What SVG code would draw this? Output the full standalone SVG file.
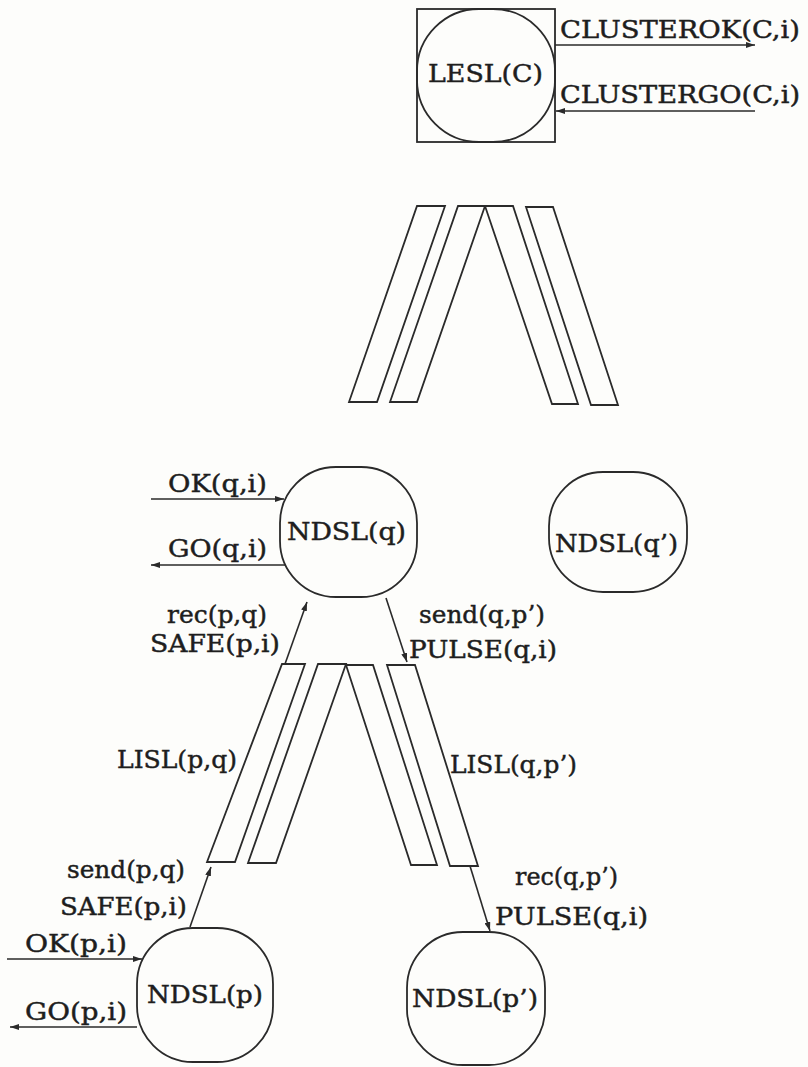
<svg xmlns="http://www.w3.org/2000/svg" width="808" height="1067" viewBox="0 0 808 1067">
<style>
.bg{fill:#fdfdfb}
.node{fill:none;stroke:#2a2a2a;stroke-width:1.8}
.ch{fill:none;stroke:#2a2a2a;stroke-width:1.8;stroke-linejoin:miter}
.conn{fill:none;stroke:#2a2a2a;stroke-width:1.6}
text{font-family:"DejaVu Serif","Liberation Serif",serif;font-size:24px;fill:#1e1e1e;stroke:#1e1e1e;stroke-width:0.45}
</style>
<defs>
<marker id="ah" markerWidth="9" markerHeight="6" refX="9" refY="3" orient="auto" markerUnits="userSpaceOnUse">
<path d="M0,0 L9,3 L0,6 z" fill="#2a2a2a"/>
</marker>
</defs>
<rect class="bg" x="0" y="0" width="808" height="1067"/>

<g id="LESL">
<rect class="node" x="417" y="9" width="138" height="133"/>
<rect class="node" x="417" y="9" width="138" height="133" rx="62" ry="62"/>
<text x="428" y="82" textLength="115" lengthAdjust="spacingAndGlyphs">LESL(C)</text>
</g>

<g id="channels-top">
<polygon class="ch" points="417,206 445,206 377,402 349,402"/>
<polygon class="ch" points="458,206 485,206 417,402 390,402"/>
<polygon class="ch" points="485,206 513,206 578,404 552,404"/>
<polygon class="ch" points="526,207 553,207 618,405 591,405"/>
</g>

<g id="NDSLq">
<rect class="node" x="280" y="467" width="137" height="130" rx="56" ry="56"/>
<text x="287" y="540" textLength="119" lengthAdjust="spacingAndGlyphs">NDSL(q)</text>
</g>

<g id="NDSLq2">
<rect class="node" x="549" y="472" width="138" height="120" rx="54" ry="54"/>
<text x="555" y="552" textLength="123" lengthAdjust="spacingAndGlyphs">NDSL(q’)</text>
</g>

<g id="channels-bottom">
<polygon class="ch" points="282,664 305,664 235,862 207,862"/>
<polygon class="ch" points="318,664 346,664 276,863 248,863"/>
<polygon class="ch" points="346,665 373,665 437,865 411,865"/>
<polygon class="ch" points="387,665 415,665 478,866 450,866"/>
</g>

<g id="NDSLp">
<rect class="node" x="137" y="928" width="136" height="134" rx="56" ry="56"/>
<text x="147" y="1003" textLength="116" lengthAdjust="spacingAndGlyphs">NDSL(p)</text>
</g>

<g id="NDSLp2">
<rect class="node" x="407" y="932" width="138" height="133" rx="56" ry="56"/>
<text x="412" y="1007" textLength="126" lengthAdjust="spacingAndGlyphs">NDSL(p’)</text>
</g>

<g id="connectors">
<line class="conn" x1="555" y1="45" x2="755" y2="45" marker-end="url(#ah)"/>
<line class="conn" x1="755" y1="111" x2="556" y2="111" marker-end="url(#ah)"/>
<line class="conn" x1="151" y1="499" x2="284" y2="499" marker-end="url(#ah)"/>
<line class="conn" x1="285" y1="565" x2="151" y2="565" marker-end="url(#ah)"/>
<line class="conn" x1="7" y1="959" x2="142" y2="959" marker-end="url(#ah)"/>
<line class="conn" x1="137" y1="1027" x2="10" y2="1027" marker-end="url(#ah)"/>
<line class="conn" x1="190" y1="927" x2="211" y2="867" marker-end="url(#ah)"/>
<line class="conn" x1="285" y1="664" x2="307" y2="602" marker-end="url(#ah)"/>
<line class="conn" x1="386" y1="598" x2="407" y2="662" marker-end="url(#ah)"/>
<line class="conn" x1="470" y1="866" x2="490" y2="931" marker-end="url(#ah)"/>
</g>

<g id="labels">
<text x="560" y="38" textLength="240" lengthAdjust="spacingAndGlyphs">CLUSTEROK(C,i)</text>
<text x="560" y="103" textLength="240" lengthAdjust="spacingAndGlyphs">CLUSTERGO(C,i)</text>
<text x="168" y="492" textLength="99" lengthAdjust="spacingAndGlyphs">OK(q,i)</text>
<text x="168" y="557" textLength="99" lengthAdjust="spacingAndGlyphs">GO(q,i)</text>
<text x="167" y="623" textLength="100" lengthAdjust="spacingAndGlyphs">rec(p,q)</text>
<text x="150" y="652" textLength="130" lengthAdjust="spacingAndGlyphs">SAFE(p,i)</text>
<text x="419" y="623" textLength="126" lengthAdjust="spacingAndGlyphs">send(q,p’)</text>
<text x="409" y="658" textLength="148" lengthAdjust="spacingAndGlyphs">PULSE(q,i)</text>
<text x="117" y="768" textLength="120" lengthAdjust="spacingAndGlyphs">LISL(p,q)</text>
<text x="450" y="773" textLength="127" lengthAdjust="spacingAndGlyphs">LISL(q,p’)</text>
<text x="67" y="878" textLength="118" lengthAdjust="spacingAndGlyphs">send(p,q)</text>
<text x="60" y="915" textLength="127" lengthAdjust="spacingAndGlyphs">SAFE(p,i)</text>
<text x="25" y="952" textLength="102" lengthAdjust="spacingAndGlyphs">OK(p,i)</text>
<text x="25" y="1020" textLength="102" lengthAdjust="spacingAndGlyphs">GO(p,i)</text>
<text x="515" y="885" textLength="103" lengthAdjust="spacingAndGlyphs">rec(q,p’)</text>
<text x="495" y="925" textLength="153" lengthAdjust="spacingAndGlyphs">PULSE(q,i)</text>
</g>
</svg>
